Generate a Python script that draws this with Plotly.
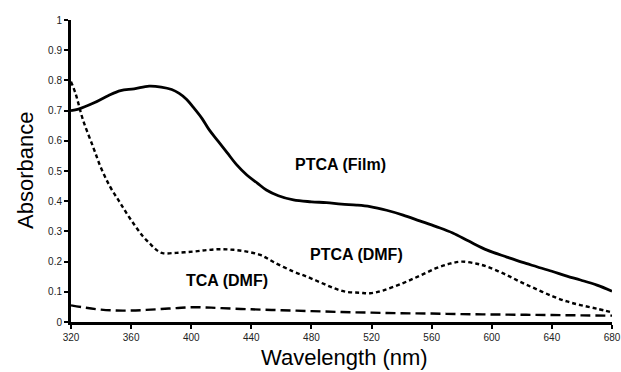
import plotly.graph_objects as go

# PTCA (Film)
film_x = [320, 325, 335, 345, 353, 362, 372, 380, 387, 392, 397, 401, 407, 412, 418, 424, 430, 437, 444, 450, 458,
          468, 480, 490, 500, 510, 519, 530, 541, 552, 563, 574, 585, 597, 610, 620, 630, 640, 650, 659, 670, 680]
film_y = [0.70, 0.705, 0.725, 0.75, 0.766, 0.772, 0.781, 0.778, 0.77, 0.757, 0.737, 0.713, 0.675, 0.636, 0.598,
          0.56, 0.522, 0.487, 0.46, 0.437, 0.418, 0.404, 0.398, 0.395, 0.39, 0.387, 0.382, 0.37, 0.354, 0.335,
          0.316, 0.295, 0.267, 0.238, 0.215, 0.198, 0.183, 0.168, 0.152, 0.139, 0.122, 0.102]

# PTCA (DMF)
dmf_x = [320, 323, 328, 335, 340, 346, 352, 357, 363, 368, 373, 377, 381, 390, 401, 410, 419, 428, 437, 446, 455,
         468, 477, 486, 495, 503, 512, 519, 528, 541, 552, 563, 572, 580, 590, 597, 608, 619, 630, 641, 650, 659,
         670, 680]
dmf_y = [0.796, 0.757, 0.669, 0.576, 0.51, 0.448, 0.40, 0.36, 0.316, 0.283, 0.257, 0.238, 0.228, 0.229, 0.233,
         0.238, 0.241, 0.239, 0.233, 0.222, 0.198, 0.167, 0.15, 0.131, 0.112, 0.10, 0.097, 0.095, 0.105, 0.129,
         0.153, 0.178, 0.193, 0.20, 0.193, 0.183, 0.16, 0.133, 0.108, 0.084, 0.068, 0.056, 0.044, 0.032]

# TCA (DMF)
tca_x = [320, 330, 340, 350, 360, 370, 380, 390, 400, 410, 420, 440, 460, 480, 500, 520, 540, 560, 580, 600,
         620, 640, 660, 680]
tca_y = [0.055, 0.047, 0.041, 0.038, 0.038, 0.04, 0.043, 0.046, 0.049, 0.048, 0.046, 0.042, 0.039, 0.036,
         0.033, 0.031, 0.029, 0.028, 0.026, 0.025, 0.024, 0.023, 0.022, 0.021]

x_ticks = [320, 360, 400, 440, 480, 520, 560, 600, 640, 680]
y_ticks = [0, 0.1, 0.2, 0.3, 0.4, 0.5, 0.6, 0.7, 0.8, 0.9, 1]

labels = ["PTCA (Film)", "PTCA (DMF)", "TCA (DMF)"]
label_x = [499, 510, 424]
label_y = [0.52, 0.222, 0.139]

x_title = "Wavelength (nm)"
y_title = "Absorbance"

FONT = "Arial, Liberation Sans, sans-serif"

fig = go.Figure()
fig.add_trace(go.Scatter(x=film_x, y=film_y, mode="lines", name=labels[0],
                         line=dict(color="black", width=2.8), line_shape="spline"))
fig.add_trace(go.Scatter(x=dmf_x, y=dmf_y, mode="lines", name=labels[1],
                         line=dict(color="black", width=2.4, dash="4px,3px"), line_shape="spline"))
fig.add_trace(go.Scatter(x=tca_x, y=tca_y, mode="lines", name=labels[2],
                         line=dict(color="black", width=2.4, dash="10px,5px"), line_shape="spline"))

for t, xx, yy in zip(labels, label_x, label_y):
    fig.add_annotation(x=xx, y=yy, text="<b>%s</b>" % t, showarrow=False,
                       font=dict(family=FONT, size=16, color="black"))

fig.add_annotation(xref="paper", yref="paper", x=0.506, y=-0.119, text=x_title, showarrow=False,
                   xanchor="center", yanchor="middle", font=dict(family=FONT, size=22, color="black"))
fig.add_annotation(xref="paper", yref="paper", x=-0.085, y=0.5, text=y_title, showarrow=False,
                   textangle=-90, xanchor="center", yanchor="middle",
                   font=dict(family=FONT, size=22, color="black"))

fig.update_layout(
    width=621, height=372,
    margin=dict(l=71, r=9, t=20, b=50),
    paper_bgcolor="white", plot_bgcolor="white",
    showlegend=False,
    font=dict(family=FONT, color="black"),
)
fig.update_xaxes(range=[320, 680], tickvals=x_ticks, ticktext=[str(v) for v in x_ticks],
                 automargin=False, ticklabeloverflow="allow",
                 showgrid=False, zeroline=False, showline=True, linecolor="black", linewidth=3,
                 ticks="outside", ticklen=4, tickwidth=2, tickcolor="black",
                 tickfont=dict(family=FONT, size=10, color="#222"))
fig.update_yaxes(range=[0, 1], tickvals=y_ticks, ticktext=[("%g" % v) for v in y_ticks],
                 automargin=False,
                 showgrid=False, zeroline=False, showline=True, linecolor="black", linewidth=3,
                 ticks="outside", ticklen=4, tickwidth=2, tickcolor="black",
                 tickfont=dict(family=FONT, size=10, color="#222"))

fig.write_html("out.html", config={"displayModeBar": False},
               post_script="document.body.style.margin='0';document.body.style.overflow='hidden';")
